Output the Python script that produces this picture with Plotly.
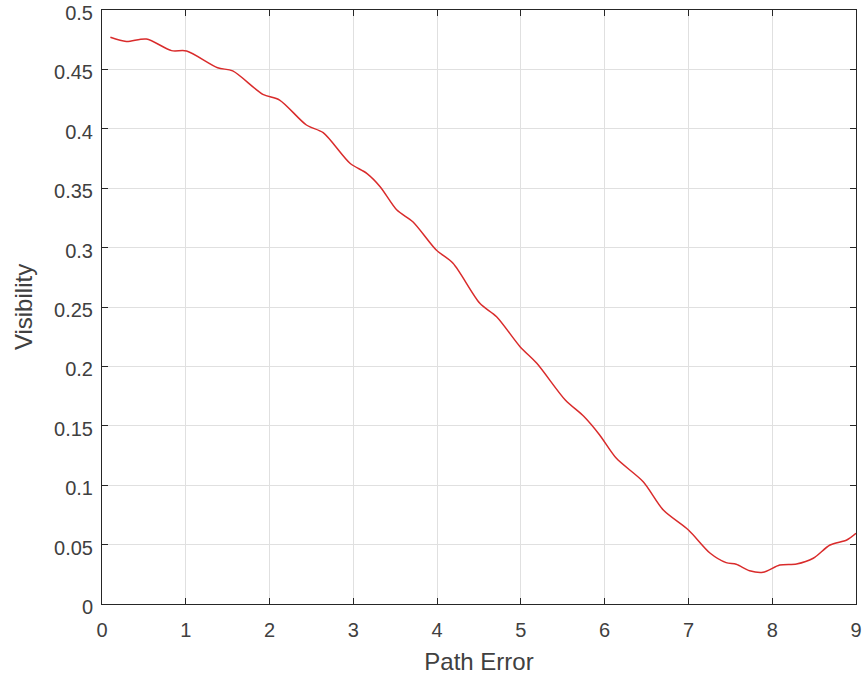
import plotly.graph_objects as go

path_error = [0.10, 0.29, 0.53, 0.83, 1.01, 1.38, 1.56, 1.92, 2.12, 2.44, 2.64, 2.96, 3.16, 3.32,
              3.52, 3.71, 3.99, 4.19, 4.51, 4.71, 4.99, 5.19, 5.53, 5.75, 5.94, 6.14, 6.46, 6.70,
              7.00, 7.26, 7.45, 7.57, 7.73, 7.89, 8.09, 8.29, 8.49, 8.69, 8.89, 9.00]
visibility = [0.477, 0.4735, 0.4756, 0.4658, 0.4655, 0.4514, 0.4487, 0.429, 0.4242, 0.4032, 0.3967,
              0.371, 0.3625, 0.3513, 0.3316, 0.3218, 0.298, 0.2868, 0.2531, 0.2418, 0.2166, 0.2026,
              0.1717, 0.158, 0.1423, 0.1226, 0.1029, 0.0791, 0.0623, 0.0427, 0.0348, 0.0334, 0.028,
              0.0267, 0.0328, 0.0337, 0.0385, 0.0497, 0.0539, 0.0595]

x_ticks = [0, 1, 2, 3, 4, 5, 6, 7, 8, 9]
y_ticks = [0, 0.05, 0.1, 0.15, 0.2, 0.25, 0.3, 0.35, 0.4, 0.45, 0.5]
y_tick_text = ["0", "0.05", "0.1", "0.15", "0.2", "0.25", "0.3", "0.35", "0.4", "0.45", "0.5"]

FONT = "Liberation Sans, Arial, sans-serif"

fig = go.Figure()
fig.add_trace(go.Scatter(x=path_error, y=visibility, mode="lines",
                         line=dict(color="#d92b2b", width=1.5, shape="spline", smoothing=0.8),
                         showlegend=False))

axis_common = dict(showline=True, linecolor="#262626", linewidth=1, mirror="allticks",
                   ticks="inside", ticklen=6, tickcolor="#262626",
                   showgrid=True, gridcolor="#e0e0e0", gridwidth=1, zeroline=False,
                   automargin=False, ticklabeloverflow="allow",
                   tickfont=dict(family=FONT, size=20, color="#404040"),
                   title_font=dict(family=FONT, size=24, color="#404040"))

fig.update_xaxes(range=[0, 9], tickvals=x_ticks, title_text="Path Error", title_standoff=13,
                 ticklabelstandoff=8, **axis_common)
fig.update_yaxes(range=[0, 0.5], tickvals=y_ticks, ticktext=y_tick_text, title_text="Visibility",
                 title_standoff=14, ticklabelstandoff=4, ticklabelshift=3, **axis_common)

fig.update_layout(width=863, height=680, margin=dict(l=102, r=7, t=10, b=76),
                  paper_bgcolor="white", plot_bgcolor="white")

fig.write_html("out.html", config={"displayModeBar": False},
               post_script="document.body.style.margin='0';document.body.style.overflow='hidden';")
